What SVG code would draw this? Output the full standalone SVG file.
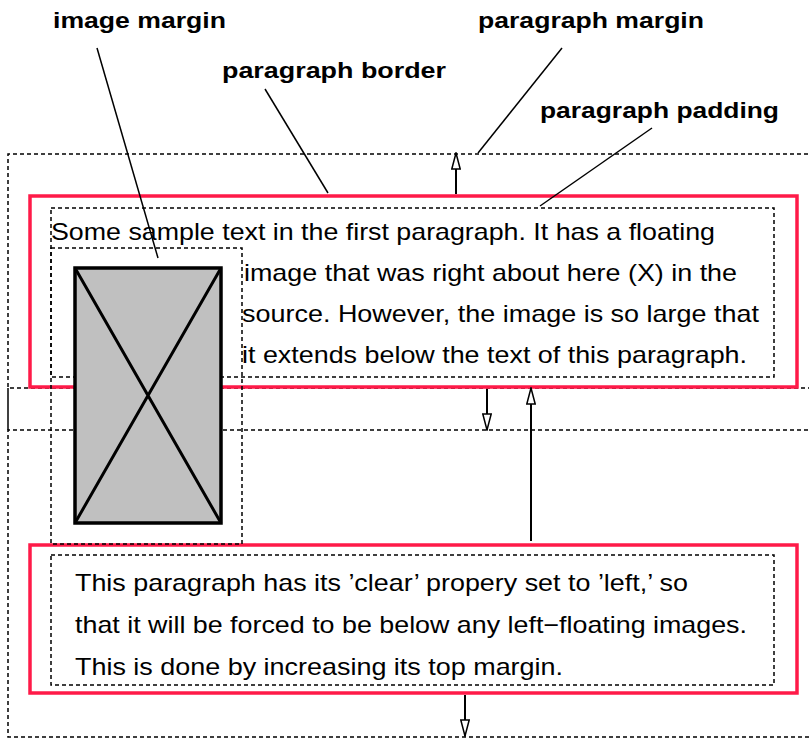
<svg xmlns="http://www.w3.org/2000/svg" width="809" height="738" viewBox="0 0 809 738">
<style>
.dash{fill:none;stroke:#000;stroke-width:1.5;stroke-dasharray:4 3}
.border{fill:none;stroke:#ff1a48;stroke-width:3.5}
.body{font-family:"Liberation Sans",Arial,sans-serif;font-size:24px;fill:#000}
.label{font-family:"Liberation Sans",Arial,sans-serif;font-size:22px;font-weight:bold;fill:#000}
.lead{stroke:#000;stroke-width:1.5;fill:none}
.arrow{stroke:#000;stroke-width:2;fill:none;marker-end:url(#head)}
</style>
<defs>
<marker id="head" viewBox="0 0 18 10" refX="17" refY="5" markerWidth="18" markerHeight="10" markerUnits="userSpaceOnUse" orient="auto">
<path d="M1,0.8 L17,5 L1,9.2 Z" fill="#fff" stroke="#000" stroke-width="1.5"/>
</marker>
</defs>
<rect width="809" height="738" fill="#fff"/>

<g id="paragraph1">
<path class="dash" d="M815,154 H8 V388 H815"/>
<rect class="border" x="30" y="196" width="767" height="191"/>
<rect class="dash" x="51" y="208" width="723" height="169"/>
<text class="body" x="51" y="240" textLength="664" lengthAdjust="spacingAndGlyphs">Some sample text in the first paragraph. It has a floating</text>
<text class="body" x="244" y="281" textLength="493" lengthAdjust="spacingAndGlyphs">image that was right about here (X) in the</text>
<text class="body" x="242" y="322" textLength="517" lengthAdjust="spacingAndGlyphs">source. However, the image is so large that</text>
<text class="body" x="242" y="363" textLength="505" lengthAdjust="spacingAndGlyphs">it extends below the text of this paragraph.</text>
</g>

<g id="paragraph2">
<path class="dash" d="M815,430 H8 V737 H815"/>
<path d="M8,388 V430" stroke="#000" stroke-width="1.5"/>
<rect class="border" x="30" y="545" width="767" height="148"/>
<rect class="dash" x="51" y="555" width="723" height="130"/>
<text class="body" x="75" y="591" textLength="613" lengthAdjust="spacingAndGlyphs">This paragraph has its ’clear’ propery set to ’left,’ so</text>
<text class="body" x="75" y="633" textLength="672" lengthAdjust="spacingAndGlyphs">that it will be forced to be below any left−floating images.</text>
<text class="body" x="75" y="675" textLength="488" lengthAdjust="spacingAndGlyphs">This is done by increasing its top margin.</text>
</g>

<g id="float-image">
<rect class="dash" x="51" y="248" width="191" height="296"/>
<rect x="75" y="268" width="146" height="255" fill="#c0c0c0" stroke="#000" stroke-width="3.5"/>
<path d="M75,268 L221,523 M221,268 L75,523" stroke="#000" stroke-width="3" fill="none"/>
</g>

<g id="label-image-margin"><text class="label" x="53" y="28" textLength="173" lengthAdjust="spacingAndGlyphs">image margin</text></g>
<g id="label-paragraph-border"><text class="label" x="222" y="78" textLength="224" lengthAdjust="spacingAndGlyphs">paragraph border</text></g>
<g id="label-paragraph-margin"><text class="label" x="478" y="28" textLength="226" lengthAdjust="spacingAndGlyphs">paragraph margin</text></g>
<g id="label-paragraph-padding"><text class="label" x="540" y="118" textLength="239" lengthAdjust="spacingAndGlyphs">paragraph padding</text></g>

<g id="connectors">
<path class="lead" d="M97,48 L158,258"/>
<path class="lead" d="M265,89 L328,193"/>
<path class="lead" d="M562,48 L478,153"/>
<path class="lead" d="M652,128 L540,206"/>
<path class="arrow" d="M456,194 V153"/>
<path class="arrow" d="M487,389 V430"/>
<path class="arrow" d="M531,541 V388"/>
<path class="arrow" d="M465,695 V736"/>
</g>
</svg>
